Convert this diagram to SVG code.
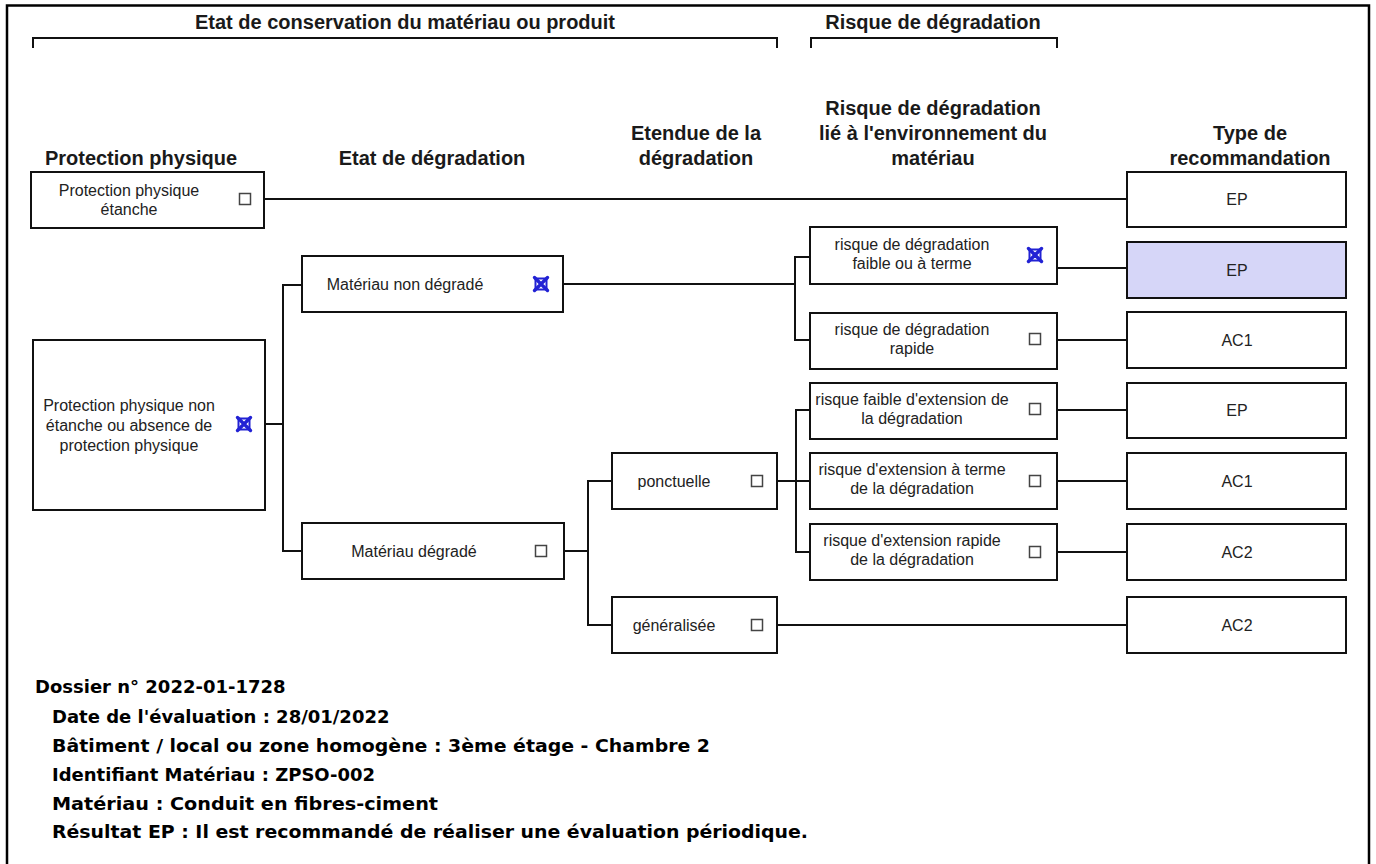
<svg xmlns="http://www.w3.org/2000/svg" width="1376" height="864" viewBox="0 0 1376 864">
<style>
.box{fill:#fff;stroke:#111;stroke-width:2}
.hl{fill:#d6d6f8}
.t{font-family:"Liberation Sans",Arial,sans-serif;font-size:16px;fill:#222;text-anchor:middle}
.h{font-family:"Liberation Sans",Arial,sans-serif;font-weight:bold;font-size:20px;fill:#1a1a1a;text-anchor:middle}
.cb{fill:none;stroke:#444;stroke-width:1.5}
.ck{fill:none;stroke:#2222d4;stroke-width:2}
.ckx{fill:none;stroke:#2222d4;stroke-width:3.4;stroke-linecap:round}
.ln{fill:none;stroke:#111;stroke-width:2}
.info{font-family:"DejaVu Sans",Verdana,sans-serif;font-weight:bold;font-size:18px;fill:#000}
</style>
<defs>
<g id="cbox"><rect class="cb" x="-5.5" y="-5.5" width="11" height="11"/></g>
<g id="cx"><rect class="ck" x="-5.5" y="-5.5" width="11" height="11"/><path class="ckx" d="M-6.5 -6.5L6.5 6.5M6.5 -6.5L-6.5 6.5"/></g>
</defs>
<rect width="1376" height="864" fill="#fff"/>
<path d="M7 864V5.5H1369V864" fill="none" stroke="#000" stroke-width="2.5"/>

<g id="headers">
<text class="h" x="405" y="29">Etat de conservation du matériau ou produit</text>
<path class="ln" d="M33 48V38H777V48"/>
<text class="h" x="933" y="29">Risque de dégradation</text>
<path class="ln" d="M811 48V38H1057V48"/>
<text class="h" x="141" y="165">Protection physique</text>
<text class="h" x="432" y="165">Etat de dégradation</text>
<text class="h" x="696" y="140">Etendue de la</text>
<text class="h" x="696" y="165">dégradation</text>
<text class="h" x="933" y="115">Risque de dégradation</text>
<text class="h" x="933" y="140">lié à l'environnement du</text>
<text class="h" x="933" y="165">matériau</text>
<text class="h" x="1250" y="140">Type de</text>
<text class="h" x="1250" y="165">recommandation</text>
</g>

<g id="connectors">
<path class="ln" d="M264 199H1127"/>
<path class="ln" d="M265 424H283M302 285H283V551H302"/>
<path class="ln" d="M563 284H795M810 257H795V340H810"/>
<path class="ln" d="M564 551H588M612 481H588V625H612"/>
<path class="ln" d="M777 481H811M811 410H796V552H811"/>
<path class="ln" d="M1057 268H1127M1057 340H1127M1057 410H1127M1057 481H1127M1057 552H1127"/>
<path class="ln" d="M777 625H1127"/>
</g>

<g id="n-pp-etanche">
<rect class="box" x="31" y="172" width="233" height="56"/>
<text class="t" x="129" y="196">Protection physique</text>
<text class="t" x="129" y="215">étanche</text>
<use href="#cbox" x="245" y="199"/>
</g>
<g id="n-pp-non-etanche">
<rect class="box" x="33" y="340" width="232" height="170"/>
<text class="t" x="129" y="411">Protection physique non</text>
<text class="t" x="129" y="431">étanche ou absence de</text>
<text class="t" x="129" y="451">protection physique</text>
<use href="#cx" x="244" y="424"/>
</g>
<g id="n-non-degrade">
<rect class="box" x="302" y="256" width="261" height="56"/>
<text class="t" x="405" y="290">Matériau non dégradé</text>
<use href="#cx" x="541" y="284"/>
</g>
<g id="n-degrade">
<rect class="box" x="302" y="523" width="262" height="56"/>
<text class="t" x="414" y="557">Matériau dégradé</text>
<use href="#cbox" x="541" y="551"/>
</g>
<g id="n-ponctuelle">
<rect class="box" x="612" y="453" width="165" height="56"/>
<text class="t" x="674" y="487">ponctuelle</text>
<use href="#cbox" x="757" y="481"/>
</g>
<g id="n-generalisee">
<rect class="box" x="612" y="597" width="165" height="56"/>
<text class="t" x="674" y="631">généralisée</text>
<use href="#cbox" x="757" y="625"/>
</g>
<g id="n-risque-faible">
<rect class="box" x="810" y="227" width="247" height="57"/>
<text class="t" x="912" y="250">risque de dégradation</text>
<text class="t" x="912" y="269">faible ou à terme</text>
<use href="#cx" x="1035" y="255"/>
</g>
<g id="n-risque-rapide">
<rect class="box" x="810" y="313" width="247" height="56"/>
<text class="t" x="912" y="335">risque de dégradation</text>
<text class="t" x="912" y="354">rapide</text>
<use href="#cbox" x="1035" y="339"/>
</g>
<g id="n-ext-faible">
<rect class="box" x="810" y="383" width="247" height="56"/>
<text class="t" x="912" y="405">risque faible d'extension de</text>
<text class="t" x="912" y="424">la dégradation</text>
<use href="#cbox" x="1035" y="409"/>
</g>
<g id="n-ext-terme">
<rect class="box" x="810" y="453" width="247" height="56"/>
<text class="t" x="912" y="475">risque d'extension à terme</text>
<text class="t" x="912" y="494">de la dégradation</text>
<use href="#cbox" x="1035" y="481"/>
</g>
<g id="n-ext-rapide">
<rect class="box" x="810" y="524" width="247" height="56"/>
<text class="t" x="912" y="546">risque d'extension rapide</text>
<text class="t" x="912" y="565">de la dégradation</text>
<use href="#cbox" x="1035" y="552"/>
</g>

<g id="r1"><rect class="box" x="1127" y="172" width="219" height="55"/><text class="t" x="1237" y="205">EP</text></g>
<g id="r2"><rect class="box hl" x="1127" y="242" width="219" height="56"/><text class="t" x="1237" y="276">EP</text></g>
<g id="r3"><rect class="box" x="1127" y="312" width="219" height="56"/><text class="t" x="1237" y="346">AC1</text></g>
<g id="r4"><rect class="box" x="1127" y="383" width="219" height="55"/><text class="t" x="1237" y="416">EP</text></g>
<g id="r5"><rect class="box" x="1127" y="453" width="219" height="56"/><text class="t" x="1237" y="487">AC1</text></g>
<g id="r6"><rect class="box" x="1127" y="524" width="219" height="56"/><text class="t" x="1237" y="558">AC2</text></g>
<g id="r7"><rect class="box" x="1127" y="597" width="219" height="56"/><text class="t" x="1237" y="631">AC2</text></g>

<g id="info">
<text class="info" x="35" y="693">Dossier n° 2022-01-1728</text>
<text class="info" x="52" y="723">Date de l'évaluation : 28/01/2022</text>
<text class="info" x="52" y="752" textLength="658" lengthAdjust="spacingAndGlyphs">Bâtiment / local ou zone homogène : 3ème étage - Chambre 2</text>
<text class="info" x="52" y="781">Identifiant Matériau : ZPSO-002</text>
<text class="info" x="52" y="810" textLength="386" lengthAdjust="spacingAndGlyphs">Matériau : Conduit en fibres-ciment</text>
<text class="info" x="52" y="838" textLength="756" lengthAdjust="spacingAndGlyphs">Résultat EP : Il est recommandé de réaliser une évaluation périodique.</text>
</g>
</svg>
